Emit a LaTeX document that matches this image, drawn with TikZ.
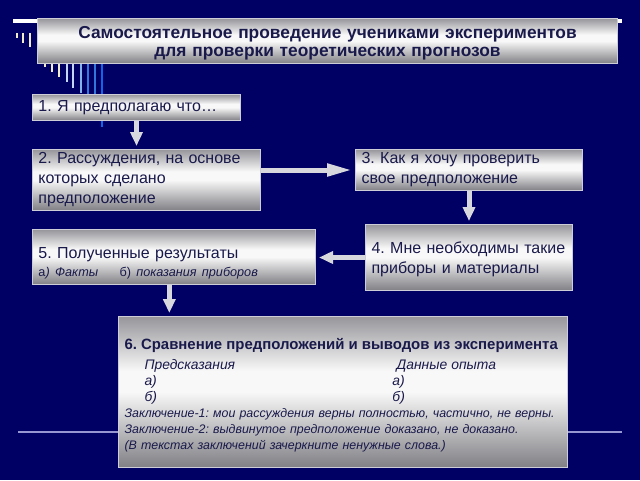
\documentclass[tikz,border=0pt]{standalone}
\usepackage{fontspec}
\setmainfont{Liberation Sans}
\usetikzlibrary{arrows.meta}
\frenchspacing

\definecolor{slidebg}{RGB}{0,0,100}
\definecolor{inktext}{RGB}{25,25,75}
\definecolor{rimgray}{RGB}{205,205,215}
\definecolor{arrowgray}{RGB}{215,215,222}
\definecolor{rulelav}{RGB}{150,150,210}
\definecolor{mtop}{RGB}{150,150,155}
\definecolor{mwhite}{RGB}{248,248,248}
\definecolor{mbot}{RGB}{128,128,133}
\definecolor{barcream}{RGB}{240,235,200}
\definecolor{barpale}{RGB}{195,215,245}
\definecolor{barlight}{RGB}{130,180,235}
\definecolor{barblue}{RGB}{50,120,220}
\definecolor{barbright}{RGB}{20,100,235}

\pgfdeclareverticalshading{metal}{100bp}{color(0bp)=(mbot); color(25bp)=(mbot);
  color(50bp)=(mwhite); color(57bp)=(mwhite); color(75bp)=(mtop); color(100bp)=(mtop)}

\tikzset{
  metalbox/.style={draw=rimgray, line width=0.75pt, shading=metal, text=inktext,
    anchor=north west, inner xsep=4.5pt, inner ysep=0pt, align=left},
  boxfont/.style={font=\fontsize{12}{15}\selectfont},
  flow/.style={draw=arrowgray, line width=3.75pt, shorten >=2.25pt,
    -{Triangle[length=10.5pt,width=9pt]}}
}

\begin{document}
\begin{tikzpicture}[x=0.75pt,y=0.75pt,yscale=-1,xscale=1]

% Background
\fill[slidebg] (0,0) rectangle (640,480);
\useasboundingbox (0,0) rectangle (640,480);

% Lines
\draw[white, line width=3pt] (13,21) -- (622,21);
\draw[rulelav, line width=1.5pt] (18,432) -- (622,432);

% Bars
\foreach \x/\t/\b/\c in {17/33/38/barcream, 23/33/43/barcream, 30/33/47/barcream,
    45/55/67/barcream, 52/55/72/barcream, 59/55/77/barcream, 67/55/82/barpale,
    73/55/88/barpale, 81/55/93/barlight, 88/55/100/barblue, 95/55/110/barblue,
    102/55/127/barbright}
  \draw[\c, line width=2pt] (\x,\t) -- (\x,\b);

% Boxes
\draw (37,18) node [metalbox, text width=426pt, minimum height=33.75pt, align=center,
  font=\fontsize{13}{13.5}\selectfont\bfseries] (title)
  {\rule{0pt}{12.5pt}Самостоятельное проведение учениками экспериментов\\для проверки теоретических прогнозов};
\draw (32,94) node [metalbox, boxfont, text width=147pt, minimum height=19.5pt] (step1)
  {1. Я предполагаю что…};
\draw (32,149) node [metalbox, boxfont, text width=162pt, minimum height=45.75pt] (step2)
  {2. Рассуждения, на основе\\которых сделано\\предположение};
\draw (355,149) node [metalbox, boxfont, text width=161.25pt, minimum height=30.75pt] (step3)
  {3. Как я хочу проверить\\свое предположение};
\draw (365,224) node [metalbox, boxfont, text width=146.25pt, minimum height=49.5pt] (step4)
  {\rule{0pt}{12pt}4. Мне необходимы такие\\приборы и материалы};
\draw (32,229) node [metalbox, boxfont, text width=203.25pt, minimum height=41.25pt] (step5)
  {\rule{0pt}{18pt}5. Полученные результаты\\[-1.5pt]
   {\fontsize{9.5}{12}\selectfont а\textit{) Факты}\hspace{16pt}б) \textit{показания приборов}}};
\draw (118,316) node [metalbox, text width=327.75pt, minimum height=113.25pt,
  font=\fontsize{9.3}{12}\selectfont\itshape] (step6)
  {{\upshape\bfseries\fontsize{11.2}{12}\selectfont\rule{0pt}{13pt}6. Сравнение предположений и выводов из эксперимента}\\[2.5pt]
   {\fontsize{10.4}{12}\selectfont\hspace*{15pt}\makebox[186pt][l]{Предсказания} Данные опыта}\\
   {\fontsize{10.4}{12}\selectfont\hspace*{15pt}\makebox[186pt][l]{а)}а)}\\
   {\fontsize{10.4}{12}\selectfont\hspace*{15pt}\makebox[186pt][l]{б)}б)}\\
   Заключение-1: мои рассуждения верны полностью, частично, не верны.\\
   Заключение-2: выдвинутое предположение доказано, не доказано.\\
   (В текстах заключений зачеркните ненужные слова.)};

% Arrows
\draw[flow] (step1.south) -- (step1.south |- step2.north);
\draw[flow, -{Triangle[length=18.75pt,width=9pt]}] (step2.east |- step3.west) -- (step3.west);
\draw[flow] (step3.south) -- (step4.north);
\draw[flow] (step4.west) -- (step4.west -| step5.east);
\draw[flow] ([xshift=-3.5pt]step5.south) -- ([xshift=-3.5pt]step5.south |- step6.north);

\end{tikzpicture}
\end{document}
